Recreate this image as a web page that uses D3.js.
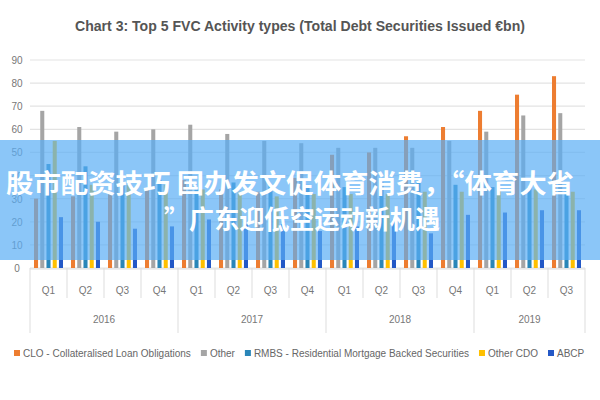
<!DOCTYPE html>
<html><head><meta charset="utf-8">
<script src="https://cdn.jsdelivr.net/npm/d3@7"></script>
<style>body{margin:0;background:#fff}</style></head>
<body><svg id="c" width="600" height="400"></svg>
<script>
const quarters=["Q1","Q2","Q3","Q4","Q1","Q2","Q3","Q4","Q1","Q2","Q3","Q4","Q1","Q2","Q3"];
const years=["2016","2017","2018","2019"];
const yearCounts=[4,4,4,3];
const seriesNames=["CLO - Collateralised Loan Obligations","Other","RMBS - Residential Mortgage Backed Securities","Other CDO","ABCP"];
const colors=["#ED7D31","#A5A5A5","#2A86B8","#FFC000","#2458C6"];
const clo=[30,31,32,34,38,34,33,39,49,50,57,61,68,75,83];
const other=[68,61,59,60,62,58,55,54,52,52,52,55,59,66,67];
const rmbs=[45,44,37,38,34,37,36,36,35,37,37,36,35,35,33];
const otherCdo=[55,36,36,36,34,33,31,32,32,32,33,33,34,34,33];
const abcp=[22,20,17,18,21,19,19,16,18,21,15,23,24,25,25];
const yTicks=[0,10,20,30,40,50,60,70,80,90];
const data=[clo,other,rmbs,otherCdo,abcp];

const svg=d3.select("#c");
const L=30,R=585,T=60,B=268;
const x=d3.scaleBand().domain(d3.range(15)).range([L,R]);
const y=d3.scaleLinear().domain([0,90]).range([B,T]);
const xs=d3.scaleBand().domain(d3.range(5)).range([4,x.bandwidth()-4]).paddingInner(0.35);

svg.append("text").attr("x",300).attr("y",31).attr("text-anchor","middle")
 .attr("font-family","Liberation Sans, sans-serif").attr("font-size",14).attr("font-weight","bold").attr("fill","#555")
 .attr("textLength",450).attr("lengthAdjust","spacingAndGlyphs")
 .text("Chart 3: Top 5 FVC Activity types (Total Debt Securities Issued €bn)");

svg.append("g").selectAll("line").data(yTicks).join("line")
 .attr("x1",L).attr("x2",R).attr("y1",d=>y(d)).attr("y2",d=>y(d)).attr("stroke","#e3e3e3").attr("stroke-width",1.2);
svg.append("g").selectAll("text").data(yTicks).join("text")
 .attr("x",17).attr("y",d=>y(d)+4).attr("text-anchor","middle").attr("font-size",10)
 .attr("font-family","Liberation Sans, sans-serif").attr("fill","#777").text(d=>d);

data.forEach((arr,si)=>{
 svg.append("g").selectAll("rect").data(arr).join("rect")
  .attr("x",(d,i)=>x(i)+xs(si)).attr("width",xs.bandwidth())
  .attr("y",d=>y(d)).attr("height",d=>B-y(d)).attr("fill",colors[si]);
});

svg.append("line").attr("x1",L).attr("x2",R).attr("y1",B+1).attr("y2",B+1).attr("stroke","#ddd");
const tf="Liberation Sans, sans-serif";
for(let i=0;i<=15;i++){const xx=i<15?x(i):R;
 svg.append("line").attr("x1",xx).attr("x2",xx).attr("y1",B).attr("y2",B+30).attr("stroke","#ddd");}
svg.append("g").selectAll("text").data(quarters).join("text")
 .attr("x",(d,i)=>x(i)+x.bandwidth()/2).attr("y",B+26).attr("text-anchor","middle")
 .attr("font-size",10).attr("font-family",tf).attr("fill","#777").text(d=>d);
let start=0;
years.forEach((yr,k)=>{
 const x0=x(start), x1=start+yearCounts[k]<15?x(start+yearCounts[k]):R;
 svg.append("line").attr("x1",x0).attr("x2",x0).attr("y1",B+30).attr("y2",B+65).attr("stroke","#ddd");
 if(k==years.length-1) svg.append("line").attr("x1",x1).attr("x2",x1).attr("y1",B+30).attr("y2",B+65).attr("stroke","#ddd");
 svg.append("text").attr("x",(x0+x1)/2).attr("y",B+55).attr("text-anchor","middle")
  .attr("font-size",10).attr("font-family",tf).attr("fill","#777").text(yr);
 start+=yearCounts[k];
});

const leg=svg.append("g").attr("font-family",tf).attr("font-size",10).attr("fill","#666");
let lx=14;
seriesNames.forEach((n,i)=>{
 leg.append("rect").attr("x",lx).attr("y",350).attr("width",6).attr("height",6).attr("fill",colors[i]);
 const t=leg.append("text").attr("x",lx+9).attr("y",357).text(n);
 lx+=t.node().getComputedTextLength()+19;
});

svg.append("rect").attr("x",0).attr("y",140).attr("width",600).attr("height",120).attr("fill","#5AAEF5").attr("opacity",0.7);
const bt=svg.append("g").attr("font-family","Noto Sans CJK SC").attr("font-weight","bold").attr("font-size",26).attr("fill","#fff");
bt.append("text").attr("x",6).attr("y",193).attr("textLength",568).attr("lengthAdjust","spacingAndGlyphs").text("股市配资技巧 国办发文促体育消费，“体育大省");
bt.append("text").attr("x",164).attr("y",229).attr("textLength",276).attr("lengthAdjust","spacingAndGlyphs").text("”广东迎低空运动新机遇");
</script></body></html>
